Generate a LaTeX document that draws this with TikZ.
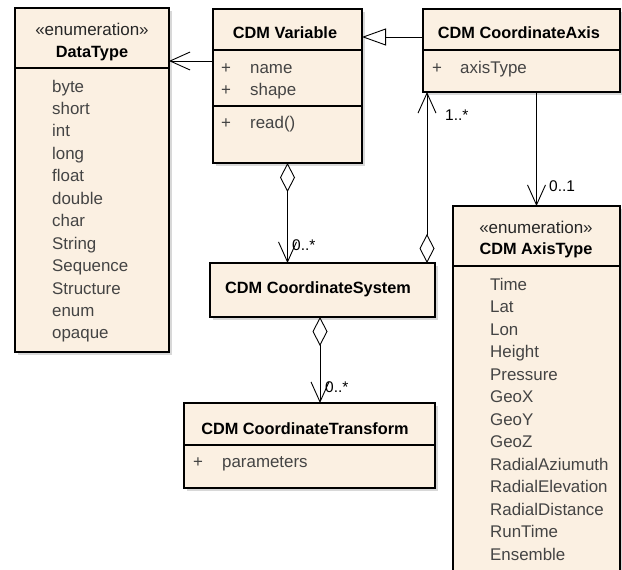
\documentclass[tikz,border=0pt]{standalone}
\usepackage{fontspec}
\setmainfont{Liberation Sans}
\usetikzlibrary{arrows.meta,shadows,positioning}

\definecolor{umlfill}{RGB}{251,240,226}
\definecolor{umltext}{RGB}{68,68,68}

\tikzset{
  part/.style={draw, fill=umlfill, line width=2.8pt, inner sep=0pt, outer sep=0pt,
    anchor=north west, drop shadow={shadow xshift=2.5pt, shadow yshift=-2.5pt, fill=black!30}},
  title/.style={font=\fontsize{16.3}{18}\selectfont\bfseries, inner sep=0pt, anchor=base},
  stereo/.style={font=\fontsize{17}{18}\selectfont, text=black!85, inner sep=0pt, anchor=base},
  item/.style={font=\fontsize{16.9}{18}\selectfont, text=umltext, inner sep=0pt, anchor=base west},
  mult/.style={font=\fontsize{15.5}{18}\selectfont, inner sep=0pt, anchor=base west},
  assoc/.style={draw, line width=0.9pt, -{Straight Barb[length=20pt, width=18pt]}},
  agg/.style={draw, line width=0.9pt,
    {Diamond[fill=white, length=29pt, width=15pt]}-{Straight Barb[length=20pt, width=18pt]}},
  gen/.style={draw, line width=0.9pt, -{Triangle[open, length=24pt, width=17pt]}}
}

\begin{document}
\begin{tikzpicture}[x=1pt, y=-1pt]
\useasboundingbox (0,0) rectangle (622,570);
\clip (0,0) rectangle (622,570);

% DataType
\node[part, minimum width=154, minimum height=60] (dthead) at (15,8) {};
\node[part, minimum width=154, minimum height=284] (dtbody) at (dthead.south west) {};
\node[stereo] (dtstereo) at (92,35) {«enumeration»};
\node[title] (dtname) at (92,57) {DataType};
\foreach \t [count=\i from 0] in {byte,short,int,long,float,double,char,String,Sequence,Structure,enum,opaque}
  \node[item] (dt\i) at (52,{92+22.45*\i}) {\t};

% CDM Variable
\node[part, minimum width=149, minimum height=41] (varhead) at (213,9) {};
\node[part, minimum width=149, minimum height=56] (varattr) at (varhead.south west) {};
\node[part, minimum width=149, minimum height=57] (varops) at (varattr.south west) {};
\node[title] (varname) at (285,38) {CDM Variable};
\node[item] (varp1) at (221,73) {+};
\node[item] (varname1) at (250,73) {name};
\node[item] (varp2) at (221,95) {+};
\node[item] (varshape) at (250,95) {shape};
\node[item] (varp3) at (221,128) {+};
\node[item] (varread) at (250,128) {read()};

% CDM CoordinateAxis
\node[part, minimum width=197, minimum height=41] (axhead) at (423,9) {};
\node[part, minimum width=197, minimum height=42] (axattr) at (axhead.south west) {};
\node[title] (axname) at (519,38) {CDM CoordinateAxis};
\node[item] (axp1) at (432,73) {+};
\node[item] (axtype) at (460,73) {axisType};

% CDM CoordinateSystem
\node[part, minimum width=225, minimum height=54] (sys) at (210,263) {};
\node[title] (sysname) at (318,293) {CDM CoordinateSystem};

% CDM CoordinateTransform
\node[part, minimum width=251, minimum height=42] (trhead) at (184,403) {};
\node[part, minimum width=251, minimum height=43] (trattr) at (trhead.south west) {};
\node[title] (trname) at (305,434) {CDM CoordinateTransform};
\node[item] (trp1) at (193,467) {+};
\node[item] (trparam) at (222,467) {parameters};

% CDM AxisType
\node[part, minimum width=167, minimum height=60] (athead) at (453,206) {};
\node[part, minimum width=167, minimum height=400] (atbody) at (athead.south west) {};
\node[stereo] (atstereo) at (536,233) {«enumeration»};
\node[title] (atname) at (536,254) {CDM AxisType};
\foreach \t [count=\i from 0] in {Time,Lat,Lon,Height,Pressure,GeoX,GeoY,GeoZ,RadialAziumuth,RadialElevation,RadialDistance,RunTime,Ensemble}
  \node[item] (at\i) at (490,{290+22.5*\i}) {\t};

% connectors
\coordinate (vd) at ([yshift=-11pt]varattr.north west);
\draw[assoc] (vd) -- (vd -| dthead.east);
\coordinate (ag) at ([yshift=-7.5pt]axhead.west);
\draw[gen] (ag) -- (ag -| varhead.east);
\draw[agg] (varops.south) -- (varops.south |- sys.north);
\coordinate (sa) at ([xshift=-8pt]sys.north east);
\draw[agg] (sa) -- (sa |- axattr.south);
\draw[assoc] (athead.north |- axattr.south) -- (athead.north);
\coordinate (st) at ([xshift=-2.5pt]sys.south);
\draw[agg] (st) -- (st |- trhead.north);

% multiplicities
\node[mult] (m1) at (292,250) {0..*};
\node[mult] (m2) at (445,120) {1..*};
\node[mult] (m3) at (549,191) {0..1};
\node[mult] (m4) at (325,392) {0..*};
\end{tikzpicture}
\end{document}
